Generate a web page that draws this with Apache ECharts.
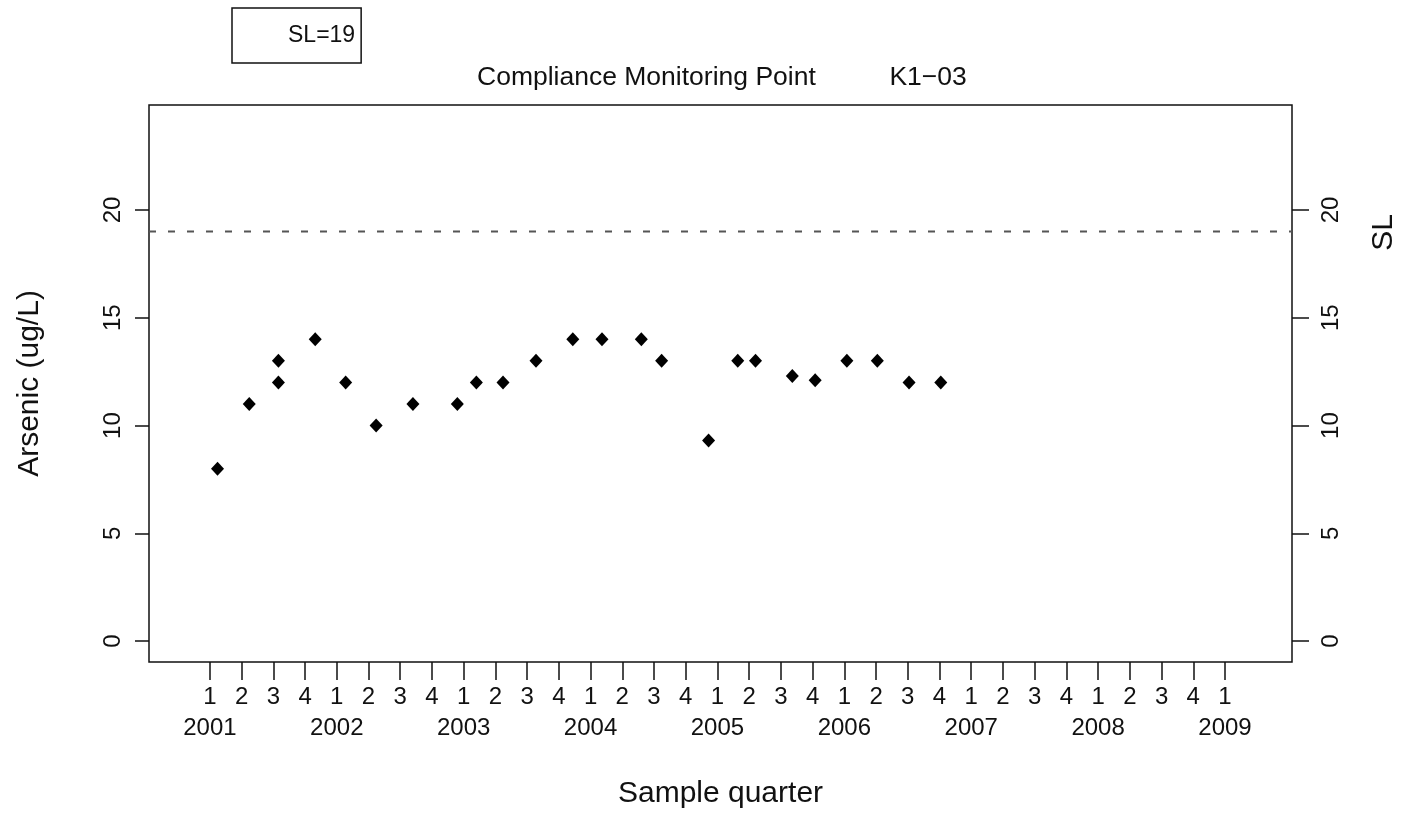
<!DOCTYPE html>
<html>
<head>
<meta charset="utf-8">
<script src="https://cdn.jsdelivr.net/npm/echarts@6/dist/echarts.min.js"></script>
<style>
html,body{margin:0;padding:0;background:#fff;}
#chart{width:1417px;height:814px;}
</style>
</head>
<body>
<div id="chart"></div>
<script>
// Sample dates (decimal year; quarter q of year Y at Y+(q-1)/4)
const sampleDates = [2001.06, 2001.31, 2001.54, 2001.54, 2001.83, 2002.07, 2002.31, 2002.60, 2002.95,
  2003.10, 2003.31, 2003.57, 2003.86, 2004.09, 2004.40, 2004.56, 2004.93, 2005.16, 2005.30,
  2005.59, 2005.77, 2006.02, 2006.26, 2006.51, 2006.76];
// Arsenic (ug/L)
const arsenic = [8, 11, 13, 12, 14, 12, 10, 11, 11,
  12, 12, 13, 14, 14, 14, 13, 9.3, 13, 13,
  12.3, 12.1, 13, 13, 12, 12];
const slValue = 19;
const years = [2001, 2002, 2003, 2004, 2005, 2006, 2007, 2008, 2009];
const quarterLabels = ['1', '2', '3', '4'];
const yTicks = [0, 5, 10, 15, 20];

const quarterTicks = [];
for (let i = 0; i <= (years[years.length - 1] - years[0]) * 4; i++) quarterTicks.push(years[0] + i / 4);

const font = 'Liberation Sans, Arial, Helvetica, sans-serif';
const chart = echarts.init(document.getElementById('chart'));
const xMin = 2000.52, xMax = 2009.528;

chart.setOption({
  animation: false,
  backgroundColor: '#fff',
  textStyle: { fontFamily: font, color: '#111' },
  title: {
    text: 'Compliance Monitoring Point          K1\u221203',
    left: 472, top: 59,
    textStyle: { fontFamily: font, fontSize: 26.5, fontWeight: 'normal', color: '#111' }
  },
  legend: {
    left: 232, top: 8,
    padding: [16, 6, 16, 8],
    itemWidth: 43, itemGap: 5,
    borderColor: '#111', borderWidth: 1.5, borderRadius: 0,
    data: [{ name: 'SL=' + slValue, icon: 'rect', itemStyle: { opacity: 0 } }],
    textStyle: { fontFamily: font, fontSize: 23, color: '#111' },
    selectedMode: false
  },
  grid: {
    left: 149, right: 125, top: 105, bottom: 149,
    show: true, borderColor: '#111', borderWidth: 1.5, backgroundColor: 'transparent'
  },
  xAxis: [{
    type: 'value', min: xMin, max: xMax, position: 'bottom', offset: 0,
    name: 'Sample quarter', nameLocation: 'middle', nameGap: 117,
    nameTextStyle: { fontFamily: font, fontSize: 30, color: '#111' },
    axisLine: { show: false, onZero: false },
    splitLine: { show: false },
    axisTick: { show: true, length: 18, lineStyle: { color: '#111', width: 1.5 }, customValues: quarterTicks },
    axisLabel: {
      customValues: quarterTicks,
      showMinLabel: true, showMaxLabel: true, hideOverlap: false,
      margin: 23, fontSize: 24, color: '#111', fontFamily: font,
      formatter: function (v) {
        const idx = Math.round((v - years[0]) * 4);
        return quarterLabels[idx % 4];
      }
    }
  }, {
    type: 'value', min: xMin, max: xMax, position: 'bottom', offset: 0,
    axisLine: { show: false, onZero: false },
    splitLine: { show: false },
    axisTick: { show: false },
    axisLabel: {
      customValues: years,
      showMinLabel: true, showMaxLabel: true, hideOverlap: false,
      margin: 54, fontSize: 24, color: '#111', fontFamily: font,
      formatter: function (v) { return String(Math.round(v)); }
    }
  }],
  yAxis: [{
    type: 'value', min: -0.97, max: 24.87, position: 'left',
    name: 'Arsenic (ug/L)', nameLocation: 'middle', nameGap: 104, nameRotate: 90,
    nameTextStyle: { fontFamily: font, fontSize: 30, color: '#111' },
    axisLine: { show: false, onZero: false }, splitLine: { show: false },
    axisTick: { show: true, length: 14, lineStyle: { color: '#111', width: 1.5 }, customValues: yTicks },
    axisLabel: { customValues: yTicks, rotate: 90, margin: 24, fontSize: 24, color: '#111', fontFamily: font }
  }, {
    type: 'value', min: -0.97, max: 24.87, position: 'right',
    axisLine: { show: false, onZero: false }, splitLine: { show: false },
    axisTick: { show: true, length: 17, lineStyle: { color: '#111', width: 1.5 }, customValues: yTicks },
    axisLabel: { customValues: yTicks, rotate: 90, margin: 27, fontSize: 24, color: '#111', fontFamily: font }
  }],
  graphic: [{
    type: 'text', left: 1369, top: 214, rotation: Math.PI / 2,
    style: { text: 'SL', font: '30px ' + font, fill: '#111' }
  }],
  series: [{
    type: 'scatter', name: 'Arsenic',
    data: sampleDates.map((d, i) => [d, arsenic[i]]),
    symbol: 'diamond', symbolSize: [13, 14],
    itemStyle: { color: '#000', opacity: 1 }
  }, {
    type: 'line', name: 'SL=' + slValue,
    data: [[xMin, slValue], [xMax, slValue]],
    symbol: 'none',
    lineStyle: { color: '#555', width: 2, type: [7, 12] }
  }]
});
</script>
</body>
</html>
